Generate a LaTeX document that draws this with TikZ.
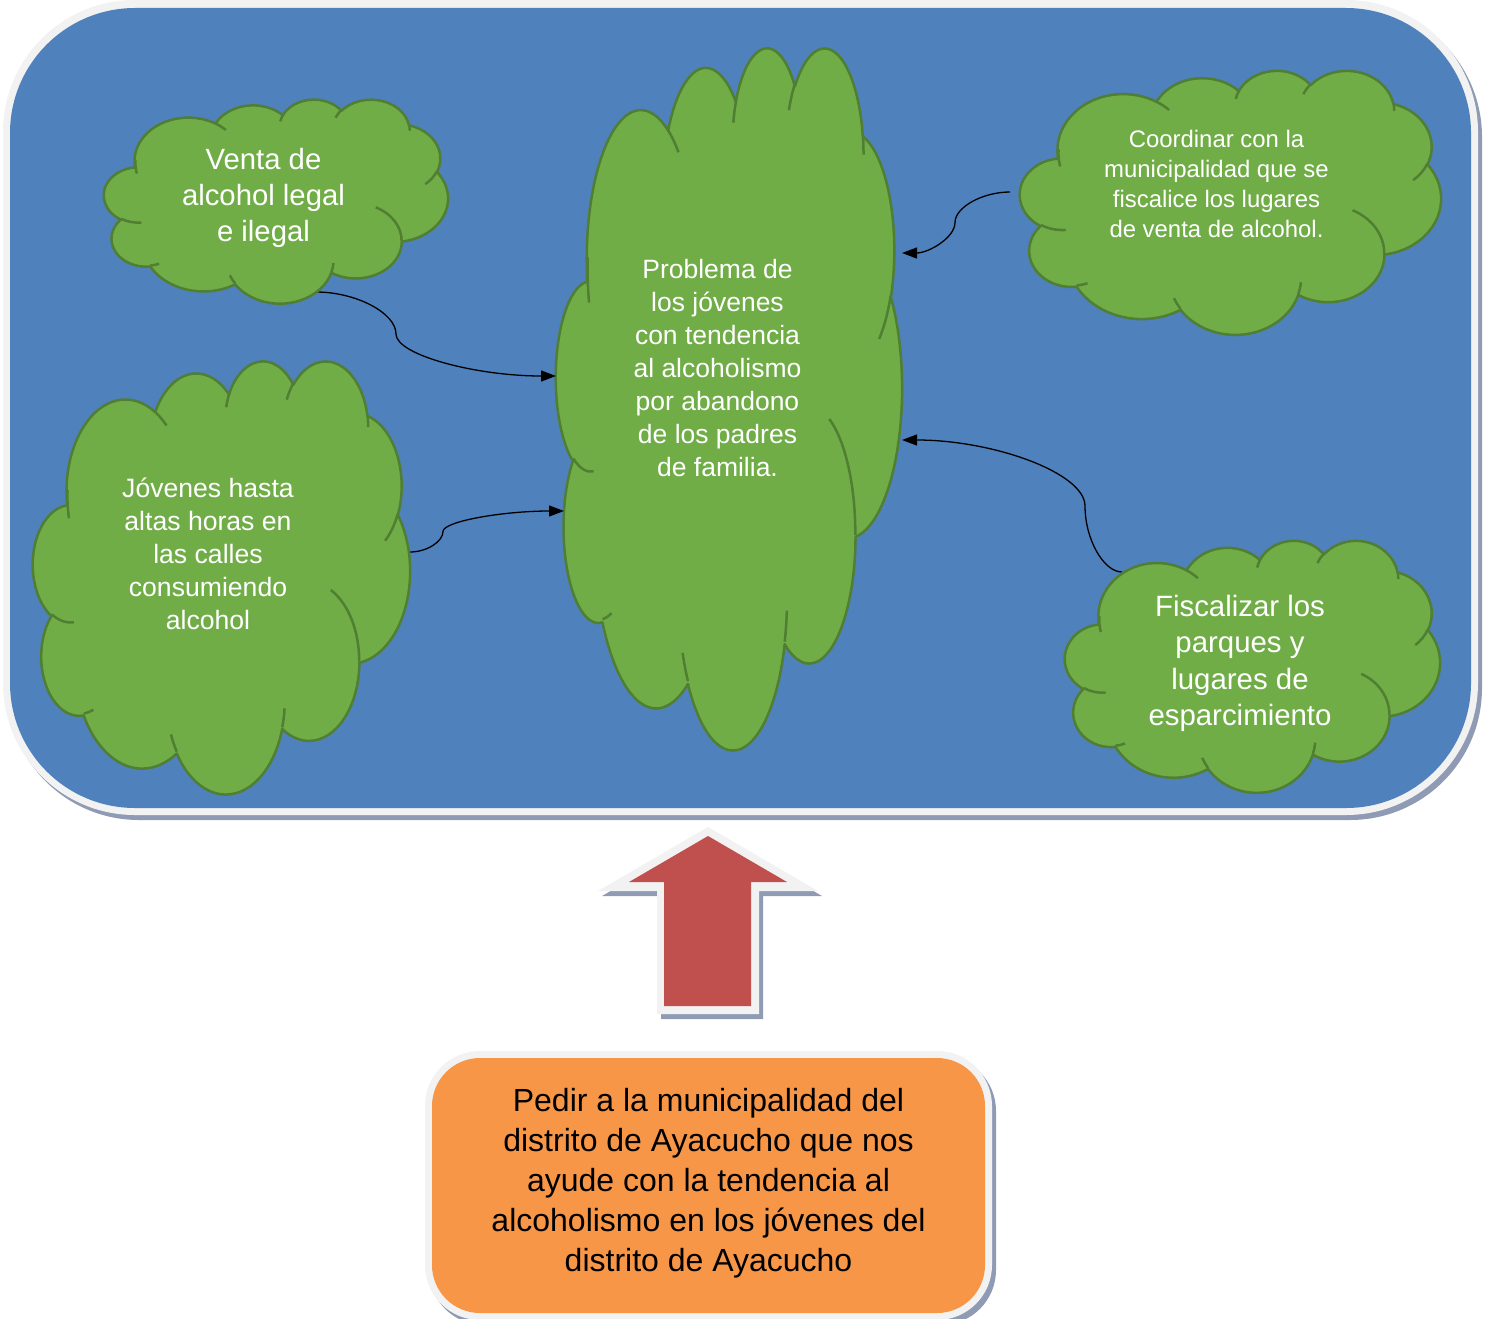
\documentclass[tikz,border=0pt]{standalone}
\usepackage{fontspec}
\setmainfont{Liberation Sans}
\usetikzlibrary{arrows.meta}

\definecolor{panelblue}{RGB}{79,129,189}
\definecolor{leafgreen}{RGB}{112,173,71}
\definecolor{leafedge}{RGB}{80,126,50}
\definecolor{arrowred}{RGB}{192,80,77}
\definecolor{boxorange}{RGB}{247,150,70}
\definecolor{rimgray}{RGB}{242,242,242}
\definecolor{shadowgray}{RGB}{143,155,180}

% struts that fix the height of the first line and the depth of the last one
\newcommand\lntop{\rule{0pt}{0.8\baselineskip}}
\newcommand\lnbot{\rule[-0.3\baselineskip]{0pt}{0.3\baselineskip}}

% Cloud outline in a 4320 x 4320 frame (y pointing down).
% Arc angles are given as polar angles and turned into the
% parametric angles that TikZ arcs expect.
\def\cloudmain{}
\def\cloudinner{}
\newcommand\addarc[5]{%
  \pgfmathsetmacro\arcA{atan2((#2)*sin(#4),(#3)*cos(#4))}%
  \pgfmathsetmacro\arcB{atan2((#2)*sin((#4)+(#5)),(#3)*cos((#4)+(#5)))}%
  \pgfmathsetmacro\arcD{mod(\arcB-(\arcA)+720,360)}%
  \xdef#1{#1 arc[start angle=\arcA, delta angle=\arcD, x radius=#2, y radius=#3]}}
\newcommand\addmove[3]{\xdef#1{#1 (#2,#3)}}

\addarc\cloudmain{675.3}{919.0}{-190.487483}{123.780533}
\addarc\cloudmain{533.3}{726.7}{-144.102383}{89.945233}
\addarc\cloudmain{436.5}{594.5}{-145.807917}{99.723017}
\addarc\cloudmain{485.7}{659.5}{-130.986067}{117.241733}
\addarc\cloudmain{533.3}{727.3}{-78.708883}{109.026917}
\addarc\cloudmain{677.5}{922.0}{-46.26725}{130.269}
\addarc\cloudmain{578.5}{786.7}{0.625017}{114.033333}
\addarc\cloudmain{675.2}{921.5}{22.4516}{115.17255}
\addarc\cloudmain{772.0}{1054.3}{66.242633}{75.711017}
\addarc\cloudmain{436.0}{591.8}{-274.942083}{146.735567}
\addarc\cloudmain{434.5}{594.5}{-246.8285}{152.51885}

\addmove\cloudinner{469.3}{2617.7}\addarc\cloudinner{434.5}{594.5}{86.742}{26.4295}
\addmove\cloudinner{692.8}{3489.9}\addarc\cloudinner{436.0}{591.8}{73.610467}{11.447467}
\addmove\cloudinner{1647.8}{3909.0}\addarc\cloudinner{675.2}{921.5}{137.62415}{14.0811}
\addmove\cloudinner{2882.7}{3475.1}\addarc\cloudinner{675.2}{921.5}{6.453267}{15.99835}
\addmove\cloudinner{3412.9}{2295.4}\addarc\cloudinner{578.5}{786.7}{-70.29235}{70.917367}
\addmove\cloudinner{4179.8}{1535.4}\addarc\cloudinner{533.3}{727.3}{30.318033}{27.7515}
\addmove\cloudinner{3832.4}{542.6}\addarc\cloudinner{485.7}{659.5}{-13.744333}{14.8589}
\addmove\cloudinner{2907.8}{395.2}\addarc\cloudinner{485.7}{659.5}{-149.18145}{18.195367}
\addmove\cloudinner{2214.1}{472.0}\addarc\cloudinner{436.5}{594.5}{-163.494267}{17.68635}
\addmove\cloudinner{1400.0}{519.2}\addarc\cloudinner{675.3}{919.0}{-66.70695}{12.31935}
\addmove\cloudinner{412.7}{1578.9}\addarc\cloudinner{675.3}{919.0}{162.036567}{23.512967}

% #1,#2 top left corner, #3 width, #4 height
\newcommand\drawcloud[4]{%
  \begin{scope}[shift={(#1,#2)},xscale=#3/4320,yscale=#4/4320]
    \path[cloudbody] (390,1437) \cloudmain -- cycle;
    \path[cloudcrease] \cloudinner;
  \end{scope}}

\begin{document}
\begin{tikzpicture}[x=1pt,y=-1pt,
  cloudbody/.style={fill=leafgreen,draw=leafedge,line width=2.5pt,line join=round},
  cloudcrease/.style={draw=leafedge,line width=2.5pt},
  cloudtext/.style={text=white,align=center,inner sep=0pt},
  link/.style={draw=black,line width=1.3pt,-{Triangle[length=15pt,width=11pt]}}]
\useasboundingbox (0,0) rectangle (1485,1319);
\fill[white] (0,0) rectangle (1485,1319);

% blue panel with its rim and shadow
\fill[shadowgray,rounded corners=132pt] (7,5) rectangle (1482,820);
\fill[rimgray,rounded corners=132pt] (3,0) rectangle (1478,815);
\fill[panelblue,rounded corners=125pt] (10,8) rectangle (1471,808);

% central cloud
\drawcloud{556}{46}{346}{702}

% connection points
\coordinate (venta-out) at (316,292);
\coordinate (jov-out) at (410,552);
\coordinate (coord-out) at (1010,192);
\coordinate (fisc-out) at (1122,572);
\coordinate (prob-w1) at (556,376);
\coordinate (prob-w2) at (564,511);
\coordinate (prob-e1) at (902,253);
\coordinate (prob-e2) at (902,440);
\coordinate (bend1) at (396,334);
\coordinate (bend2) at (443,531.5);
\coordinate (bend3) at (955,222.5);
\coordinate (bend4) at (1085,506);

\draw[link] (venta-out) .. controls (356,292) and (396,313) .. (bend1)
  .. controls (396,355) and (476,376) .. (prob-w1);
\draw[link] (jov-out) .. controls (426.5,552) and (443,541.75) .. (bend2)
  .. controls (443,521.25) and (503.5,511) .. (prob-w2);
\draw[link] (coord-out) .. controls (982.5,192) and (955,207.25) .. (bend3)
  .. controls (955,237.75) and (928.5,253) .. (prob-e1);
\draw[link] (fisc-out) .. controls (1103.5,572) and (1085,539) .. (bend4)
  .. controls (1085,473) and (993.5,440) .. (prob-e2);

% outer clouds
\drawcloud{104}{99}{344}{204}
\drawcloud{33}{360}{377}{433}
\drawcloud{1020}{70}{421}{264}
\drawcloud{1065}{540}{375}{252}

\node[cloudtext,font=\fontsize{29.3}{36}\selectfont] (venta) at (263.5,196)
  {\lntop Venta de\\alcohol legal\\e ilegal\lnbot};
\node[cloudtext,font=\fontsize{26.5}{33}\selectfont] (problema) at (717.5,368.8)
  {\lntop Problema de\\los jóvenes\\con tendencia\\al alcoholismo\\por abandono\\de los padres\\de familia.\lnbot};
\node[cloudtext,font=\fontsize{26.6}{33}\selectfont] (jovenes) at (208,555.2)
  {\lntop Jóvenes hasta\\altas horas en\\las calles\\consumiendo\\alcohol\lnbot};
\node[cloudtext,font=\fontsize{23.9}{30}\selectfont] (coordinar) at (1216.5,184.8)
  {\lntop Coordinar con la\\municipalidad que se\\fiscalice los lugares\\de venta de alcohol.\lnbot};
\node[cloudtext,font=\fontsize{29.4}{36.3}\selectfont] (fiscalizar) at (1240,661.9)
  {\lntop Fiscalizar los\\parques y\\lugares de\\esparcimiento\lnbot};

% upward arrow
\fill[shadowgray] (712,832) -- (822,896) -- (763,896) -- (763,1019) -- (661,1019)
  -- (661,896) -- (602,896) -- cycle;
\fill[rimgray] (708,827) -- (818,891) -- (759,891) -- (759,1014) -- (657,1014)
  -- (657,891) -- (598,891) -- cycle;
\fill[arrowred] (708,836) -- (787,882) -- (751,882) -- (751,1006) -- (664,1006)
  -- (664,882) -- (629,882) -- cycle;

% request box
\fill[shadowgray,rounded corners=55pt] (429,1056) rectangle (996,1325);
\fill[rimgray,rounded corners=55pt] (425,1051) rectangle (992,1320);
\fill[boxorange,rounded corners=48pt] (432,1058) rectangle (985,1313);
\node[align=center,inner sep=0pt,text=black,font=\fontsize{32}{40}\selectfont]
  (request) at (708.5,1181.7)
  {\lntop Pedir a la municipalidad del\\distrito de Ayacucho que nos\\ayude con la tendencia al\\alcoholismo en los jóvenes del\\distrito de Ayacucho\lnbot};
\end{tikzpicture}
\end{document}
